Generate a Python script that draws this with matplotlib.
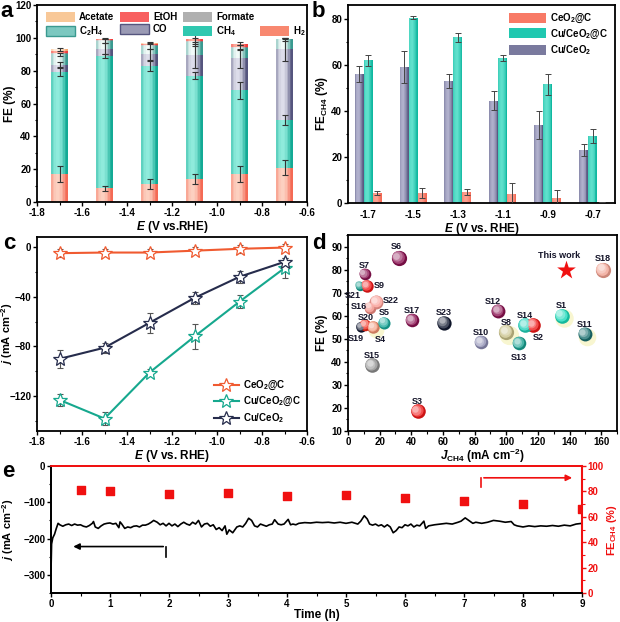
import numpy as np
import matplotlib
matplotlib.use("Agg")
import matplotlib.pyplot as plt
from matplotlib.colors import to_rgb
from matplotlib.patches import Patch
from matplotlib.ticker import MultipleLocator
import matplotlib.transforms as mtrans

plt.rcParams['font.family'] = ['Liberation Sans', 'DejaVu Sans']
plt.rcParams['font.weight'] = 'bold'
plt.rcParams['axes.labelweight'] = 'bold'
plt.rcParams['mathtext.fontset'] = 'custom'
plt.rcParams['mathtext.rm'] = 'Liberation Sans:bold'
plt.rcParams['mathtext.it'] = 'Liberation Sans:italic:bold'
plt.rcParams['mathtext.bf'] = 'Liberation Sans:bold'
plt.rcParams['xtick.labelsize'] = 7.0
plt.rcParams['ytick.labelsize'] = 7.0
plt.rcParams['axes.linewidth'] = 1.3
plt.rcParams['xtick.major.width'] = 1.0
plt.rcParams['ytick.major.width'] = 1.0
plt.rcParams['xtick.minor.width'] = 0.8
plt.rcParams['ytick.minor.width'] = 0.8
plt.rcParams['xtick.major.size'] = 3
plt.rcParams['ytick.major.size'] = 3
plt.rcParams['xtick.minor.size'] = 1.8
plt.rcParams['ytick.minor.size'] = 1.8
plt.rcParams['xtick.major.pad'] = 1.5
plt.rcParams['ytick.major.pad'] = 1.2

# ---------------- data ----------------
# panel a
a_E = [-1.7, -1.5, -1.3, -1.1, -0.9, -0.7]
a_H2 = [17, 8.5, 11, 14, 17, 21]
a_CH4 = [62, 80.5, 72, 63, 51, 29]
a_CO = [4.5, 4.5, 7, 12.5, 19.5, 43]
a_C2H4 = [6.5, 4.5, 5, 8, 6.5, 6]
a_formate = [0.8, 0.4, 0.5, 0.5, 0.6, 0.5]
a_EtOH = [1.4, 0.6, 1.0, 1.0, 1.4, 0.0]
a_acetate = [0.8, 0.5, 0.5, 0.5, 0.5, 0.0]
a_H2_err = [5, 1.5, 3, 3, 5, 4.5]
a_CH4_err = [2.5, 1, 3, 2, 5, 3]
a_CO_err = [1.5, 3.5, 3.5, 8, 6, 7]
a_C2H4_err = [1, 1, 2, 2.5, 1.5, 1]
a_top_err = [1, 0.5, 0.7, 3, 1, 0.5]

# panel b
b_E = ['-1.7', '-1.5', '-1.3', '-1.1', '-0.9', '-0.7']
b_CuCeO2 = [56, 59, 53, 44.5, 34, 23]
b_CuCeO2_err = [3.5, 7, 3, 4, 6, 2.5]
b_CuCeO2C = [62, 80.5, 72, 63, 51.5, 29]
b_CuCeO2C_err = [2.5, 0.7, 2, 1.5, 4.5, 3]
b_CeO2C = [4.3, 4.3, 4.8, 4.0, 2.0, 0.3]
b_CeO2C_err = [1, 2, 1.2, 4.7, 3.5, 0]

# panel c
c_E = [-1.7, -1.5, -1.3, -1.1, -0.9, -0.7]
c_CeO2C = [-5, -4.5, -4.5, -3, -1.5, -0.5]
c_CeO2C_err = [3, 3, 3, 3, 3, 3]
c_CuCeO2C = [-123, -138, -101, -72, -44, -17]
c_CuCeO2C_err = [5, 5, 3, 10, 5, 8]
c_CuCeO2 = [-90, -81, -61, -41, -24, -12]
c_CuCeO2_err = [7, 4, 8, 5, 5, 3]

# panel d
d_labels = ['S1', 'S2', 'S3', 'S4', 'S5', 'S6', 'S7', 'S8', 'S9', 'S10', 'S11', 'S12',
            'S13', 'S14', 'S15', 'S16', 'S17', 'S18', 'S19', 'S20', 'S21', 'S22', 'S23']
d_J = [135, 117, 44, 16, 23, 32, 10.5, 100, 12, 84, 149.5, 95,
       108, 112, 15, 14, 40.5, 161, 8.5, 11, 7.5, 18, 60.5]
d_FE = [60, 56, 18.5, 55, 57, 85, 78, 53, 73, 48.5, 52, 62,
        48, 56, 38.5, 63.5, 58, 80, 55, 56, 73, 66, 57]
d_this_J = [138]
d_this_FE = [80]

# panel e
e_trace = [(0.00, -290), (0.01, -215), (0.03, -198), (0.06, -188), (0.09, -172), (0.12, -158),
           (0.15, -162), (0.2, -166), (0.25, -162), (0.3, -160), (0.35, -164), (0.4, -160),
           (0.45, -163), (0.5, -162), (0.55, -166), (0.6, -168), (0.65, -164), (0.7, -158),
           (0.72, -153), (0.75, -168), (0.8, -172), (0.85, -165), (0.9, -160), (0.95, -158),
           (1.0, -157), (1.05, -160), (1.1, -158), (1.15, -170), (1.17, -154), (1.2, -160),
           (1.25, -172), (1.3, -168), (1.35, -170), (1.4, -166), (1.45, -165), (1.5, -168),
           (1.55, -163), (1.6, -163), (1.65, -160), (1.7, -155), (1.74, -150), (1.8, -155),
           (1.85, -162), (1.9, -158), (1.95, -165), (2.0, -158), (2.05, -165), (2.1, -160),
           (2.15, -167), (2.2, -160), (2.25, -155), (2.3, -160), (2.35, -163), (2.4, -155),
           (2.45, -160), (2.5, -150), (2.55, -168), (2.6, -160), (2.65, -158), (2.7, -166),
           (2.75, -162), (2.8, -175), (2.85, -170), (2.9, -178), (2.95, -165), (2.98, -188),
           (3.02, -176), (3.08, -184), (3.15, -168), (3.2, -165), (3.25, -168), (3.3, -158),
           (3.35, -144), (3.4, -150), (3.45, -165), (3.5, -168), (3.55, -160), (3.6, -163),
           (3.65, -166), (3.7, -162), (3.75, -160), (3.79, -148), (3.85, -160), (3.9, -162),
           (3.95, -160), (4.02, -147), (4.06, -162), (4.1, -160), (4.15, -162), (4.2, -158),
           (4.3, -156), (4.4, -157), (4.5, -155), (4.6, -156), (4.7, -155), (4.8, -157),
           (4.9, -155), (5.0, -158), (5.1, -155), (5.2, -160), (5.25, -152), (5.31, -137),
           (5.36, -146), (5.4, -160), (5.45, -163), (5.5, -160), (5.55, -165), (5.6, -162),
           (5.65, -168), (5.7, -162), (5.75, -168), (5.8, -184), (5.85, -178), (5.9, -168),
           (5.95, -170), (6.0, -162), (6.05, -165), (6.1, -160), (6.15, -168), (6.2, -163),
           (6.25, -165), (6.32, -152), (6.35, -172), (6.4, -165), (6.5, -162), (6.6, -160),
           (6.7, -158), (6.8, -160), (6.9, -155), (6.95, -152), (7.02, -143), (7.08, -150),
           (7.15, -158), (7.2, -155), (7.3, -158), (7.4, -155), (7.5, -150), (7.6, -152),
           (7.7, -155), (7.8, -153), (7.85, -162), (7.9, -165), (8.0, -168), (8.1, -165),
           (8.2, -167), (8.3, -165), (8.4, -166), (8.5, -164), (8.6, -166), (8.7, -163),
           (8.8, -165), (8.9, -160), (9.0, -158)]
e_fe_t = [0.5, 1, 2, 3, 4, 5, 6, 7, 8, 9]
e_fe = [81, 80.5, 78, 78.5, 76.5, 77, 74.5, 72.5, 70, 66]

# ---------------- helpers ----------------
def cyl_bar(ax, x, h, w, bottom, edge, center, n=11, skew=-0.25):
    x = np.asarray(x, float)
    e = np.array(to_rgb(edge)); c = np.array(to_rgb(center))
    for k in range(n):
        t = -1 + (2 * k + 1) / n
        wgt = max(0.0, 1 - ((t - skew) / 1.05) ** 2)
        col = e * (1 - wgt) + c * wgt
        ax.bar(x - w / 2 + (k + 0.5) * w / n, h, w / n * 1.05, bottom=bottom,
               color=col, linewidth=0, zorder=2)

fig = plt.figure(figsize=(6.2, 6.22), dpi=100)
W, H = 620.0, 622.0
def axpos(l, r, t, b):
    return [l / W, 1 - b / H, (r - l) / W, (b - t) / H]

LBL = 8.5

# ---------------- panel a ----------------
axa = fig.add_axes(axpos(37, 307, 5, 202))
wa = 0.075
comps = [(a_H2, '#f46a55', '#fcd0c0'), (a_CH4, '#14aa95', '#90ebdc'),
         (a_CO, '#55557e', '#dedeea'), (a_C2H4, '#3a9a90', '#f2faf8'),
         (a_formate, '#7a7a7a', '#f2f2f2'), (a_EtOH, '#f03c3c', '#ffb0a0'),
         (a_acetate, '#f2a870', '#fff2e4')]
bottom = np.zeros(len(a_E))
tops = []
for vals, ec, cc in comps:
    v = np.asarray(vals, float)
    cyl_bar(axa, a_E, v, wa, bottom, ec, cc)
    bottom = bottom + v
    tops.append(bottom.copy())
for idx, err in [(0, a_H2_err), (1, a_CH4_err), (2, a_CO_err), (3, a_C2H4_err), (6, a_top_err)]:
    axa.errorbar(a_E, tops[idx], yerr=err, fmt='none', ecolor='#333333',
                 elinewidth=0.8, capsize=2.5, capthick=0.8, zorder=3)
axa.set_xlim(-1.8, -0.6)
axa.set_ylim(0, 120)
axa.set_xticks(np.round(np.arange(-1.8, -0.59, 0.2), 1))
axa.set_xticklabels(['-1.8', '-1.6', '-1.4', '-1.2', '-1.0', '-0.8', '-0.6'])
axa.xaxis.set_minor_locator(MultipleLocator(0.1))
axa.yaxis.set_minor_locator(MultipleLocator(10))
axa.set_ylabel('FE (%)', fontsize=LBL)
axa.yaxis.set_label_coords((16 - 37) / 270, 0.5)
axa.set_xlabel('$\\mathit{E}$ (V vs.RHE)', fontsize=LBL, labelpad=0.5)
handles = [Patch(facecolor='#f8c898', edgecolor='none', label='Acetate'),
           Patch(facecolor='#7cc8c0', edgecolor='#3a9a90', label='C$_2$H$_4$'),
           Patch(facecolor='#f86060', edgecolor='none', label='EtOH'),
           Patch(facecolor='#9a9ab4', edgecolor='#55557e', label='CO'),
           Patch(facecolor='#b0b0b0', edgecolor='none', label='Formate'),
           Patch(facecolor='#30c8b0', edgecolor='none', label='CH$_4$'),
           Patch(facecolor='none', edgecolor='none', label=''),
           Patch(facecolor='#f88870', edgecolor='none', label='H$_2$')]
axa.legend(handles=handles, ncol=4, loc='upper left', bbox_to_anchor=(0.0, 1.01),
           frameon=False, fontsize=7, handlelength=3.0, handleheight=1.2,
           columnspacing=0.6, handletextpad=0.4, labelspacing=0.2)

# ---------------- panel b ----------------
axb = fig.add_axes(axpos(348, 615, 5, 203))
xb = np.arange(len(b_E))
wb = 0.2
cyl_bar(axb, xb - 0.2, b_CuCeO2, wb, 0, '#5a5a82', '#b0b0cc')
cyl_bar(axb, xb, b_CuCeO2C, wb, 0, '#10b8a0', '#5fe0cc')
cyl_bar(axb, xb + 0.2, b_CeO2C, wb, 0, '#f46a55', '#fca090')
for xx, yy, ee in [(xb - 0.2, b_CuCeO2, b_CuCeO2_err), (xb, b_CuCeO2C, b_CuCeO2C_err),
                   (xb + 0.2, b_CeO2C, b_CeO2C_err)]:
    axb.errorbar(xx, yy, yerr=ee, fmt='none', ecolor='#444444',
                 elinewidth=0.7, capsize=2.5, capthick=0.7, zorder=3)
axb.set_xlim(-0.45, 5.5)
axb.set_ylim(0, 86)
axb.set_xticks(xb)
axb.set_xticklabels(b_E)
axb.set_yticks([0, 20, 40, 60, 80])
axb.tick_params(axis='x', length=0, pad=5)
axb.yaxis.set_minor_locator(MultipleLocator(10))
axb.set_ylabel('FE$_{\\mathrm{CH4}}$ (%)', fontsize=LBL)
axb.yaxis.set_label_coords((330 - 348) / 267, 0.5)
axb.set_xlabel('$\\mathit{E}$ (V vs. RHE)', fontsize=LBL, labelpad=0.5)
hb = [Patch(facecolor='#f87a66', label='CeO$_2$@C'),
      Patch(facecolor='#20c8b0', label='Cu/CeO$_2$@C'),
      Patch(facecolor='#7a7a9e', label='Cu/CeO$_2$')]
axb.legend(handles=hb, loc='upper right', frameon=False, fontsize=7,
           handlelength=3.8, handleheight=1.2, labelspacing=0.25, handletextpad=0.4,
           borderaxespad=0.3)

# ---------------- panel c ----------------
axc = fig.add_axes(axpos(37, 307, 237, 431))
for y, err, col, lab in [(c_CeO2C, c_CeO2C_err, '#f05a30', 'CeO$_2$@C'),
                         (c_CuCeO2C, c_CuCeO2C_err, '#16a88e', 'Cu/CeO$_2$@C'),
                         (c_CuCeO2, c_CuCeO2_err, '#262c4c', 'Cu/CeO$_2$')]:
    axc.errorbar(c_E, y, yerr=err, fmt='none', ecolor='#555555', elinewidth=0.8,
                 capsize=2.5, capthick=0.8, zorder=2)
    axc.plot(c_E, y, color=col, lw=1.5, marker='*', markersize=10,
             markerfacecolor='white', markeredgecolor=col, markeredgewidth=0.9,
             label=lab, zorder=3)
axc.set_xlim(-1.8, -0.6)
axc.set_ylim(-148, 8)
axc.set_xticks(np.round(np.arange(-1.8, -0.59, 0.2), 1))
axc.set_xticklabels(['-1.8', '-1.6', '-1.4', '-1.2', '-1.0', '-0.8', '-0.6'])
axc.set_yticks([0, -40, -80, -120])
axc.xaxis.set_minor_locator(MultipleLocator(0.1))
axc.yaxis.set_minor_locator(MultipleLocator(20))
axc.set_ylabel('$\\mathit{j}$ (mA cm$^{-2}$)', fontsize=8)
axc.yaxis.set_label_coords((15.5 - 37) / 270, 0.5)
axc.set_xlabel('$\\mathit{E}$ (V vs. RHE)', fontsize=LBL, labelpad=0.5)
axc.legend(loc='lower right', frameon=False, fontsize=7, handlelength=2.6,
           labelspacing=0.3, handletextpad=0.4, borderaxespad=0.2)

# ---------------- panel d ----------------
axd = fig.add_axes(axpos(348, 617, 235, 431))
d_colors = ['#18d8b8', '#f01818', '#f01818', '#f09070', '#18a89a', '#8a1050', '#8a1050',
            '#c8c088', '#f01818', '#8a8ab0', '#1a7070', '#8a1050', '#18a090', '#20d0b8',
            '#8c8c8c', '#f08a80', '#8a1050', '#f0a090', '#101830', '#f02818', '#109888',
            '#f89890', '#101830']
d_sizes = [110, 110, 110, 80, 75, 120, 70, 120, 80, 95, 100, 100,
           95, 110, 110, 70, 95, 120, 55, 70, 45, 100, 105]
d_halo = [1, 0, 0, 1, 0, 0, 0, 1, 0, 0, 1, 0, 0, 0, 0, 0, 0, 0, 0, 0, 0, 0, 0]
tr_halo = mtrans.offset_copy(axd.transData, fig=fig, x=2.0, y=-2.0, units='points')
for xj, yf, s, h in zip(d_J, d_FE, d_sizes, d_halo):
    if h:
        axd.scatter([xj], [yf], s=s * 1.6, color='#f8f6d0', transform=tr_halo,
                    zorder=2, linewidths=0)
for xj, yf, col, s in zip(d_J, d_FE, d_colors, d_sizes):
    base = np.array(to_rgb(col))
    for k, (f, off) in enumerate([(1.0, 0.0), (0.7, 0.7), (0.45, 1.2), (0.2, 1.6)]):
        c = base * (1 - 0.22 * k) + np.ones(3) * 0.22 * k if k else base * 0.85
        tr = mtrans.offset_copy(axd.transData, fig=fig, x=-off, y=off, units='points')
        axd.scatter([xj], [yf], s=s * f, color=np.clip(c, 0, 1), transform=tr,
                    zorder=3 + k, linewidths=0)
axd.scatter(d_this_J, d_this_FE, marker='*', s=200, color='#f01010', zorder=8, linewidths=0)
lab_off = {'S1': (0, 7), 'S2': (4, -9), 'S3': (0, 7), 'S4': (5, -9), 'S5': (0, 7),
           'S6': (-2, 8), 'S7': (0, 6), 'S8': (0, 7), 'S9': (9, 0), 'S10': (0, 7),
           'S11': (0, 7), 'S12': (-4, 7), 'S13': (0, -10), 'S14': (0, 7), 'S15': (0, 7),
           'S16': (-8, 1), 'S17': (0, 7), 'S18': (0, 8), 'S19': (-4, -8), 'S20': (0, 5),
           'S21': (-5, -7), 'S22': (10, 1), 'S23': (0, 7)}
for lab, xj, yf in zip(d_labels, d_J, d_FE):
    dx, dy = lab_off[lab]
    axd.annotate(lab, (xj, yf), xytext=(dx, dy), textcoords='offset points',
                 ha='center', va='center', fontsize=6.5, fontweight='bold',
                 color='#15152a', zorder=9)
axd.annotate('This work', (d_this_J[0], d_this_FE[0]), xytext=(-5, 10),
             textcoords='offset points', ha='center', va='center', fontsize=6.5,
             fontweight='bold', color='#15152a', zorder=9)
axd.set_xlim(0, 170)
axd.set_ylim(10, 95)
axd.set_xticks(np.arange(0, 161, 20))
axd.set_yticks(np.arange(10, 91, 10))
axd.xaxis.set_minor_locator(MultipleLocator(10))
axd.yaxis.set_minor_locator(MultipleLocator(5))
axd.set_ylabel('FE (%)', fontsize=LBL)
axd.yaxis.set_label_coords((328 - 348) / 269, 0.5)
axd.set_xlabel('$\\mathit{J}_{\\mathrm{CH4}}$ (mA cm$^{-2}$)', fontsize=LBL, labelpad=-0.5)

# ---------------- panel e ----------------
axe = fig.add_axes(axpos(51, 582, 466, 593))
et = [p[0] for p in e_trace]
ej = [p[1] for p in e_trace]
axe.plot(et, ej, color='black', lw=1.2, zorder=3)
axe.set_xlim(0, 9)
axe.set_ylim(-350, 0)
axe.set_yticks([0, -100, -200, -300])
axe.set_xticks(np.arange(0, 10, 1))
axe.xaxis.set_minor_locator(MultipleLocator(0.5))
axe.yaxis.set_minor_locator(MultipleLocator(50))
axe.set_ylabel('$\\mathit{j}$ (mA cm$^{-2}$)', fontsize=8)
axe.yaxis.set_label_coords((16 - 51) / 531, 0.5)
axe.set_xlabel('Time (h)', fontsize=LBL, labelpad=0)
axe.annotate('', xy=(0.33, -222), xytext=(1.95, -222),
             arrowprops=dict(arrowstyle='-|>', color='black', lw=1.2, mutation_scale=9))
axe.plot([1.95, 1.95], [-222, -250], color='black', lw=1.2)
axe2 = axe.twinx()
axe2.scatter(e_fe_t, e_fe, marker='s', s=30, color='#f01010', zorder=4, clip_on=True)
axe2.set_ylim(0, 100)
axe2.set_yticks(np.arange(0, 101, 20))
axe2.yaxis.set_minor_locator(MultipleLocator(10))
axe2.tick_params(axis='y', which='both', colors='#f01010')
for t in axe2.get_yticklabels():
    t.set_color('#f01010')
axe2.spines['right'].set_color('#f01010')
axe2.spines['top'].set_color('#f01010')
axe.spines['top'].set_color('#f01010')
axe2.spines['right'].set_linewidth(1.5)
axe2.set_ylabel('FE$_{\\mathrm{CH4}}$ (%)', fontsize=8, color='#f01010')
axe2.yaxis.set_label_coords(1 + (605 - 582) / 531, 0.5)
axe2.annotate('', xy=(8.88, 90.7), xytext=(7.29, 90.7),
              arrowprops=dict(arrowstyle='-|>', color='#f01010', lw=1.2, mutation_scale=9))
axe2.plot([7.29, 7.29], [90.7, 83.6], color='#f01010', lw=1.2)

# panel letters
for lab, x, y in [('a', 0, 1), ('b', 312, 1), ('c', 3, 233), ('d', 312, 233), ('e', 2, 461)]:
    fig.text(x / W, 1 - y / H, lab, fontsize=16, fontweight='bold', ha='left', va='top')

fig.savefig('out.png', dpi=100)
